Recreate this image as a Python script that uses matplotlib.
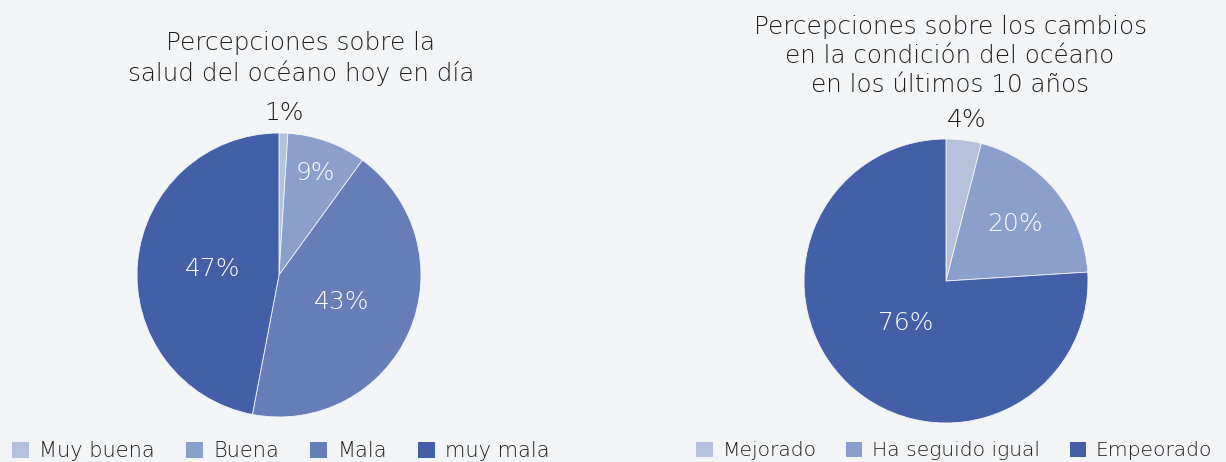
import matplotlib
matplotlib.use("Agg")
import matplotlib.pyplot as plt
import math

plt.rcParams['font.family'] = ['DejaVu Sans']

# Data
labels1 = ["Muy buena", "Buena", "Mala", "muy mala"]
values1 = [1, 9, 43, 47]
title1 = "Percepciones sobre la\nsalud del océano hoy en día"

labels2 = ["Mejorado", "Ha seguido igual", "Empeorado"]
values2 = [4, 20, 76]
title2 = "Percepciones sobre los cambios\nen la condición del océano\nen los últimos 10 años"

# Style
colors1 = ["#b4c0dc", "#8a9fca", "#677db7", "#435fa8"]
colors2 = ["#b4c0dc", "#8a9fca", "#435fa8"]
bg = "#f3f4f6"
txt = "#1e1e1e"
W, H = 1226, 462

fig = plt.figure(figsize=(W / 100, H / 100), dpi=100, facecolor=bg)
ax = fig.add_axes([0, 0, 1, 1])
ax.set_facecolor(bg)


def draw(values, colors, center, radius, dists, txtcolors):
    wedges, _ = ax.pie(values, colors=colors, startangle=90, counterclock=False,
                       center=center, radius=radius,
                       wedgeprops=dict(edgecolor=bg, linewidth=0.6), frame=True)
    for w, v, d, tc in zip(wedges, values, dists, txtcolors):
        ang = math.radians((w.theta1 + w.theta2) / 2)
        x = center[0] + d * radius * math.cos(ang)
        y = center[1] + d * radius * math.sin(ang)
        ax.text(x, y, f"{v}%", ha='center', va='center', fontsize=18,
                color=tc, fontweight=200)
    return wedges

w1 = draw(values1, colors1, (279, H - 275), 142, [1.14, 0.76, 0.48, 0.47],
          [txt, "white", "white", "white"])
w2 = draw(values2, colors2, (946, H - 281), 142, [1.14, 0.63, 0.41],
          [txt, "white", "white"])
ax.set_xlim(0, W)
ax.set_ylim(0, H)
ax.set_aspect('equal')
ax.axis('off')

ax.text(301, H - 31, title1, ha='center', va='top', fontsize=17.7,
        color=txt, linespacing=1.27, fontweight=200)
ax.text(950, H - 15, title2, ha='center', va='top', fontsize=17.7,
        color=txt, linespacing=1.27, fontweight=200)

common = dict(frameon=False, handlelength=0.82, handleheight=0.82,
              handletextpad=0.48, borderaxespad=0, borderpad=0,
              labelcolor=txt, bbox_transform=fig.transFigure)
leg1 = ax.legend(w1, labels1, loc='center left', bbox_to_anchor=(12 / W, (H - 451) / H),
                 ncol=4, columnspacing=1.5, prop=dict(size=15, weight=200), **common)
ax.add_artist(leg1)
leg2 = ax.legend(w2, labels2, loc='center left', bbox_to_anchor=(696 / W, (H - 451) / H),
                 ncol=3, columnspacing=1.45, prop=dict(size=14.6, weight=200), **common)
for leg in (leg1, leg2):
    for h in leg.legend_handles:
        h.set_edgecolor('none')

fig.savefig("out.png", dpi=100, facecolor=bg)
